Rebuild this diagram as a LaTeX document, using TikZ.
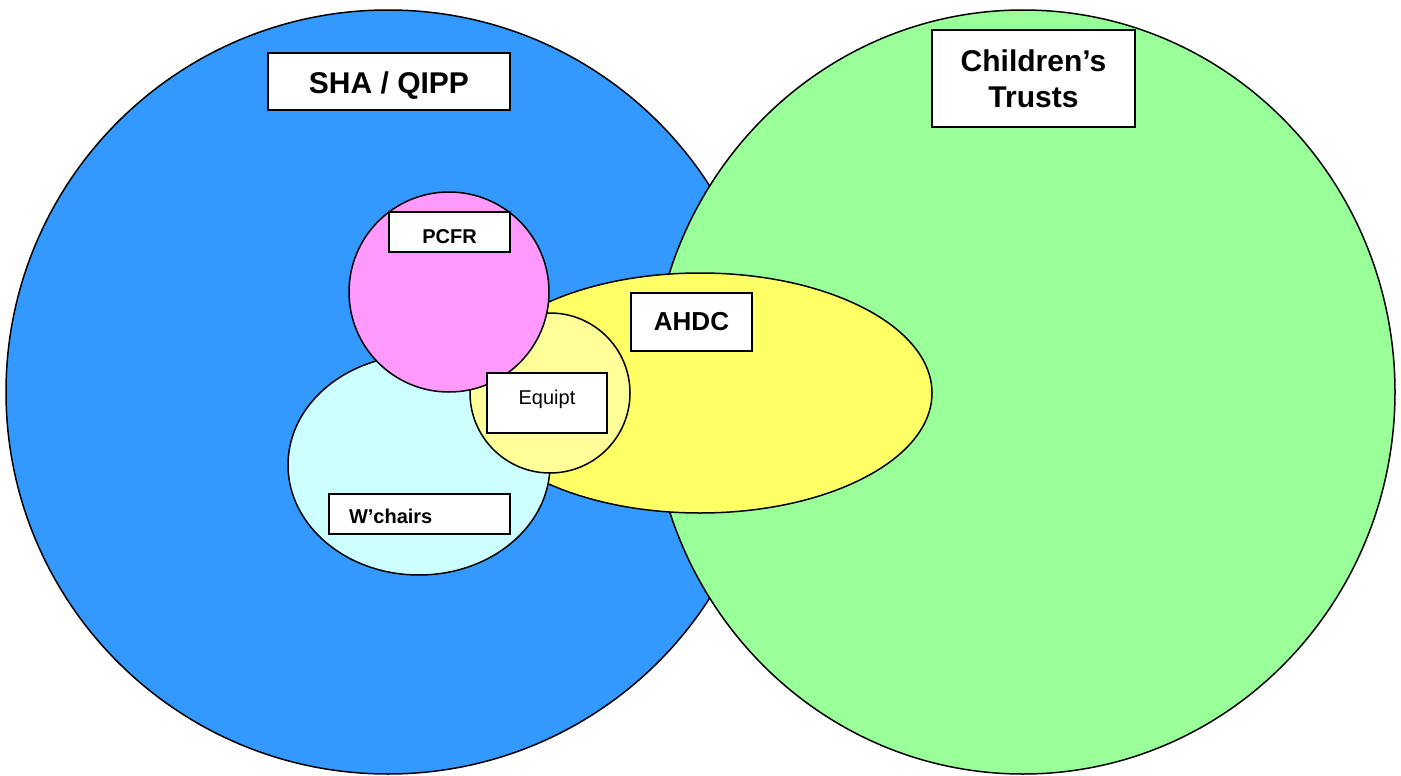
\documentclass[tikz,border=0pt]{standalone}
\usepackage{fontspec}
\setmainfont{Liberation Sans}
\usetikzlibrary{shapes.geometric, positioning}
\definecolor{shablue}{HTML}{3399FF}
\definecolor{trustgreen}{HTML}{99FF99}
\definecolor{ahdcyellow}{HTML}{FFFF66}
\definecolor{chaircyan}{HTML}{CCFFFF}
\definecolor{pcfrpink}{HTML}{FF99FF}
\definecolor{equipyellow}{HTML}{FFFF99}

\begin{document}
\begin{tikzpicture}[x=1pt, y=-1pt,
    region/.style={draw=black, line width=1.5pt, inner sep=0pt},
    label box/.style={rectangle, draw=black, line width=1.5pt, fill=white,
        text=black, text centered, inner sep=0pt},
    big/.style={font=\bfseries\fontsize{30}{36}\selectfont},
    small/.style={font=\bfseries\fontsize{20}{24}\selectfont}
]
\useasboundingbox (0,0) rectangle (1401,776);

% the areas, back to front
\node (SHA) [region, circle, minimum size=764, fill=shablue] at (388,392) {};
\node (Trusts) [region, ellipse, minimum width=744, minimum height=764, fill=trustgreen] at (1023,392) {};
\node (AHDC) [region, ellipse, minimum width=464, minimum height=240, fill=ahdcyellow] at (700,393) {};
\node (Chairs) [region, ellipse, minimum width=262, minimum height=220, fill=chaircyan] at (419,465) {};
\node (Equip) [region, circle, minimum size=160, fill=equipyellow] at (550,393) {};
\node (PCFR) [region, circle, minimum size=200, fill=pcfrpink] at (449,292) {};

% labels
\node (SHAlbl) [label box, big, text height=23pt, text depth=0pt,
    minimum width=242, minimum height=57] at (389,81.5) {SHA / QIPP};
\node (Trustslbl) [label box, big, align=center, minimum width=203, minimum height=97] at (1033.5,78.5) {Children’s\\Trusts};
\node (PCFRlbl) [label box, small, text height=22pt, text depth=0pt,
    minimum width=121, minimum height=40] at (449.5,232) {PCFR};
\node (AHDClbl) [label box, font=\bfseries\fontsize{26}{30}\selectfont, minimum width=121, minimum height=58] at (691.5,322) {AHDC};
\node (Equiplbl) [label box, font=\fontsize{20}{24}\selectfont, minimum width=120,
    text height=15pt, text depth=13pt, inner ysep=16pt] at (547,403) {Equipt};
\node (Chairslbl) [label box, small, text width=141pt, align=left, inner xsep=20pt,
    text height=18pt, text depth=0pt, minimum height=40] at (419.5,514) {W’chairs};
\end{tikzpicture}
\end{document}
